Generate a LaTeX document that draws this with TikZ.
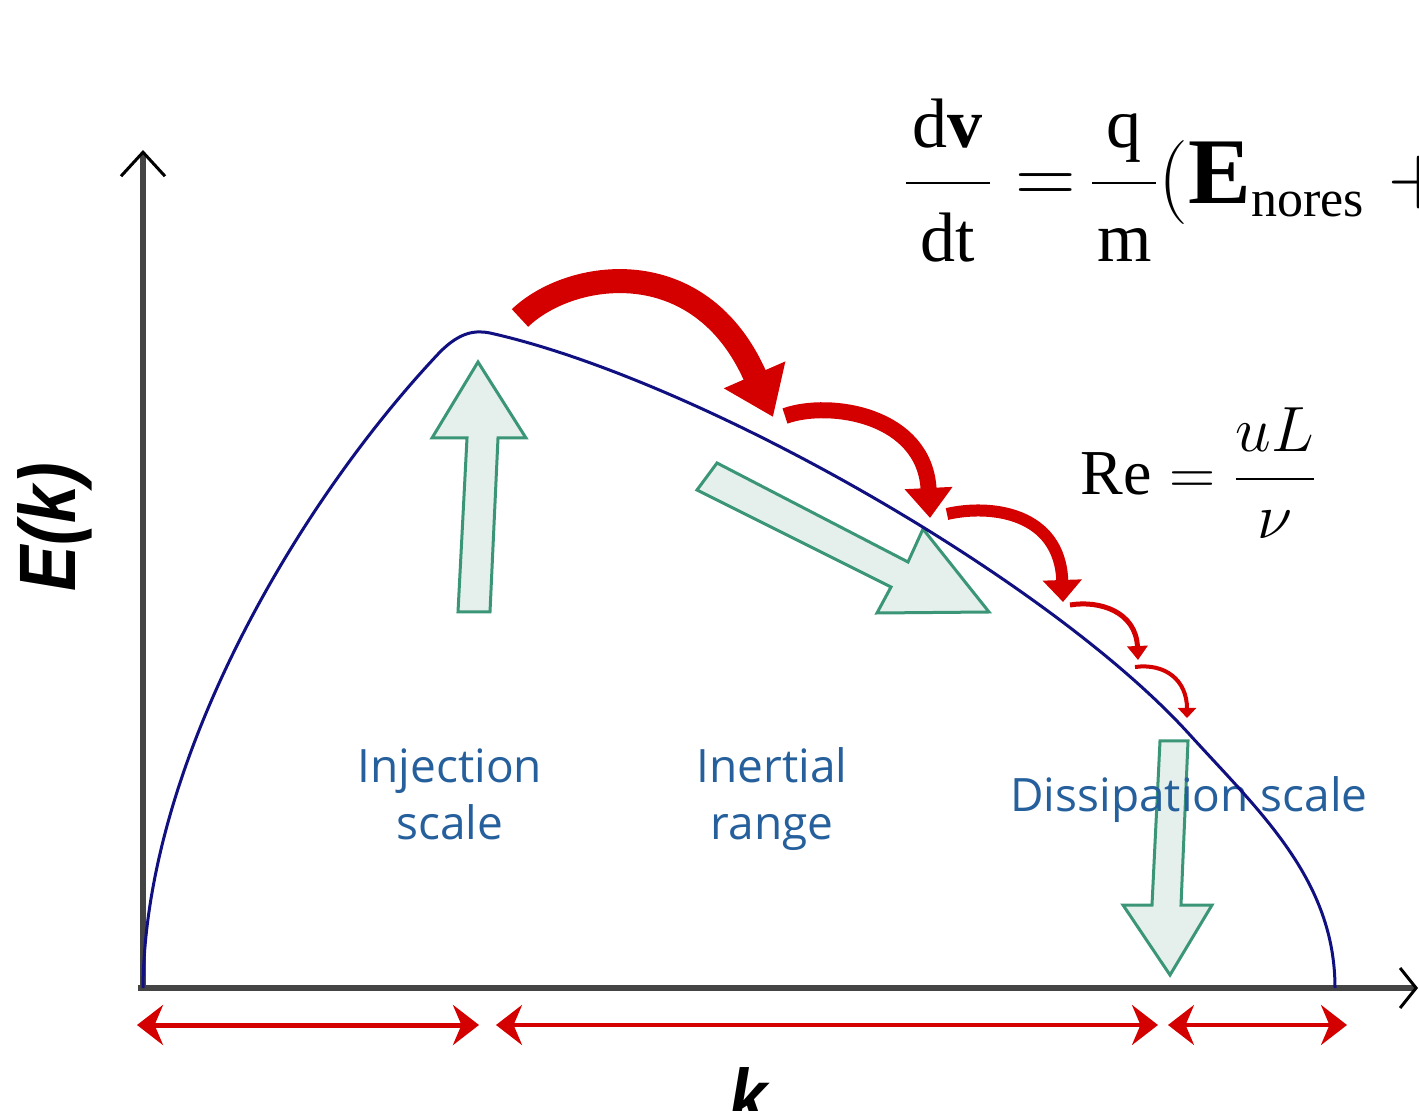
\RequirePackage{fix-cm}
\documentclass[tikz,border=0pt]{standalone}
\usepackage{amsmath}
\usepackage{fontspec}
\setmainfont{Liberation Serif}
\newfontfamily\labelfont{Open Sans}
\newfontfamily\axisfont{Liberation Sans}
\usetikzlibrary{
    arrows.meta,
    positioning
}
\definecolor{curvenavy}{RGB}{16,16,128}
\definecolor{cascred}{RGB}{212,0,0}
\definecolor{tealedge}{RGB}{58,150,118}
\definecolor{tealfill}{RGB}{229,240,236}
\definecolor{labelblue}{RGB}{38,96,156}
\definecolor{axisgray}{RGB}{68,68,68}
\newcommand{\eqpart}[2]{\text{\fontsize{35}{40}\selectfont\makebox[#1]{#2}}}

\begin{document}
\begin{tikzpicture}[
  x=0.5pt, y=-0.5pt,
  axisline/.style={axisgray, line width=3pt},
  spectrum/.style={curvenavy, line width=1.5pt},
  cascade/.style={cascred},
  blockarr/.style={
    draw=tealedge, fill=tealfill, line width=1.5pt, line join=miter},
  span/.style={cascred, line width=2pt, >={Stealth[length=13pt,width=20pt]}, <->},
  lbl/.style={
    font=\labelfont\fontsize{23}{28.5}\selectfont,
    text=labelblue, align=center},
  axlbl/.style={
    font=\axisfont\bfseries\itshape\fontsize{40}{44}\selectfont}
]
\useasboundingbox (0,0) rectangle (1419,1111);

%% Axes
\coordinate (origin) at (143,988);
\draw[axisline, -{Straight Barb[length=12pt,width=22pt,line width=1.5pt,black]}]
  (143,990) -- (143,150);
\draw[axisline, -{Straight Barb[length=8pt,width=20pt,line width=1.5pt,black]}]
  (138,988) -- (1418,988);
\node[axlbl, rotate=90, anchor=base] (ylab) at (75,527) {\scalebox{0.85}[1]{E(k)}};
\node[axlbl, anchor=base] (xlab) at (748,1125) {\scalebox{0.85}[1]{k}};

%% Block arrows (injection, transfer, dissipation)
\draw[blockarr] (458,612) -- (467,438) -- (432,438) -- (478,362)
  -- (526,438) -- (498,438) -- (490,612) -- cycle;
\draw[blockarr] (717,463) -- (908,562) -- (923,529) -- (989,612)
  -- (877,613) -- (891,587) -- (697,490) -- cycle;
\draw[blockarr] (1160,741) -- (1188,741) -- (1181,905) -- (1212,905)
  -- (1170,975) -- (1123,905) -- (1152,905) -- cycle;

%% Region labels
\node[lbl, anchor=base] (inj)   at (450,840)  {Injection\\scale};
\node[lbl, anchor=base] (inert) at (772,840)  {Inertial\\range};
\node[lbl, anchor=base] (diss)  at (1189,812) {Dissipation scale};

%% Energy spectrum
\draw[spectrum] (origin)
  .. controls (145,760) and (300,500) .. (440,352)
  .. controls (460,332) and (475,330) .. (490,333)
  .. controls (700,380) and (1050,580) .. (1190,735)
  .. controls (1260,812) and (1335,880) .. (1335,988);

%% Cascade arrows
\draw[cascade, line width=12pt, -{Triangle[length=23pt,width=32pt]}]
  (520,318) .. controls (570,270) and (700,250) .. (773,417);
\draw[cascade, line width=8pt, -{Triangle[length=15pt,width=23pt]}]
  (785,416) .. controls (830,400) and (925,415) .. (930,518);
\draw[cascade, line width=6pt, -{Triangle[length=11pt,width=19pt]}]
  (947,514) .. controls (990,504) and (1060,512) .. (1063,602);
\draw[cascade, line width=2.5pt, -{Triangle[length=7pt,width=10pt]}]
  (1070,605) .. controls (1100,600) and (1136,612) .. (1138,660);
\draw[cascade, line width=2pt, -{Triangle[length=5pt,width=9pt]}]
  (1135,667) .. controls (1165,663) and (1187,680) .. (1187,718);

%% Scale ranges
\draw[span, line width=2.5pt] (137,1025) -- (479,1025);
\draw[span] (496,1025) -- (1158,1025);
\draw[span] (1168,1025) -- (1347,1025);

%% Equations
\node[anchor=base west, inner sep=0pt, font=\fontsize{42}{48}\selectfont] (eqmotion)
  at (903,204) {$\dfrac{\eqpart{42pt}{d\textbf{v}}}{\eqpart{42pt}{dt}}
  = \mkern-2mu \dfrac{\eqpart{32pt}{q}}{\eqpart{32pt}{m}}
  (\text{\fontsize{47}{50}\selectfont\bfseries E}_{\text{\fontsize{26}{28}\selectfont nores}} \;+$};
\node[anchor=base west, inner sep=0pt, font=\fontsize{32}{38}\selectfont] (reynolds)
  at (1080,495) {$\mathrm{Re} = \dfrac{uL}{\nu}$};

\end{tikzpicture}
\end{document}
